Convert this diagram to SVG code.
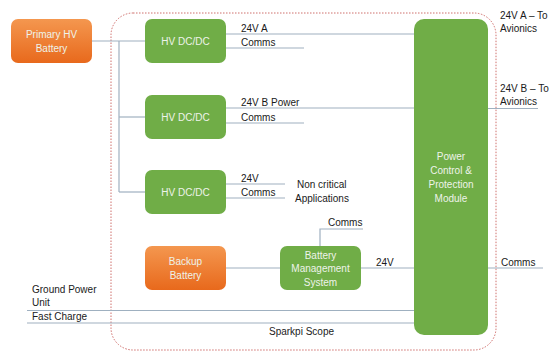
<svg xmlns="http://www.w3.org/2000/svg" width="551" height="352" viewBox="0 0 551 352">
  <defs>
    <linearGradient id="orangeFill" x1="0" y1="0" x2="0" y2="1">
      <stop offset="0" stop-color="#f4974f"/>
      <stop offset="1" stop-color="#e8691c"/>
    </linearGradient>
    <style>
      .green { fill: #70ad47; }
      .orange { fill: url(#orangeFill); }
      .box-text { font-family: "Liberation Sans", Arial, sans-serif; font-size: 10px; fill: #eef3ea; text-anchor: middle; }
      .label { font-family: "Liberation Sans", Arial, sans-serif; font-size: 10px; fill: #1a1a1a; }
      .wire { stroke: #9fb0c0; stroke-width: 1.2; fill: none; }
      .scope { stroke: #c9605c; stroke-width: 0.9; stroke-dasharray: 1.5 1.5; fill: none; }
    </style>
  </defs>

  <rect width="551" height="352" fill="#ffffff"/>

  <!-- system boundary -->
  <rect id="scope" class="scope" x="111" y="13" width="385" height="337" rx="22" ry="22"/>

  <!-- connectors -->
  <g id="connectors">
    <path class="wire" d="M92 41 H145"/>
    <path class="wire" d="M119 41 V192"/>
    <path class="wire" d="M119 117 H145"/>
    <path class="wire" d="M119 192 H145"/>
    <path class="wire" d="M226 34 H414"/>
    <path class="wire" d="M226 48 H304"/>
    <path class="wire" d="M226 108 H414"/>
    <path class="wire" d="M488 108.5 H538"/>
    <path class="wire" d="M226 123 H304"/>
    <path class="wire" d="M226 184 H285"/>
    <path class="wire" d="M226 198 H285"/>
    <path class="wire" d="M226 268 H280"/>
    <path class="wire" d="M361 268 H414"/>
    <path class="wire" d="M488 268 H543"/>
    <path class="wire" d="M320 246 V229 H363"/>
    <path class="wire" d="M27 310.5 H414"/>
    <path class="wire" d="M27 323 H414"/>
  </g>

  <!-- nodes -->
  <g id="primary-hv-battery">
    <rect class="orange" x="11" y="19" width="81" height="44" rx="7"/>
    <text class="box-text" x="51.5" y="37.5">Primary HV</text>
    <text class="box-text" x="51.5" y="51.5">Battery</text>
  </g>

  <g id="hv-dcdc-1">
    <rect class="green" x="145" y="19" width="81" height="44" rx="7"/>
    <text class="box-text" x="185.5" y="44.5">HV DC/DC</text>
  </g>

  <g id="hv-dcdc-2">
    <rect class="green" x="145" y="95" width="81" height="44" rx="7"/>
    <text class="box-text" x="185.5" y="120.5">HV DC/DC</text>
  </g>

  <g id="hv-dcdc-3">
    <rect class="green" x="145" y="170" width="81" height="44" rx="7"/>
    <text class="box-text" x="185.5" y="195.5">HV DC/DC</text>
  </g>

  <g id="backup-battery">
    <rect class="orange" x="145" y="246" width="81" height="44" rx="7"/>
    <text class="box-text" x="185.5" y="264.5">Backup</text>
    <text class="box-text" x="185.5" y="278.5">Battery</text>
  </g>

  <g id="battery-management-system">
    <rect class="green" x="280" y="246" width="81" height="44" rx="7"/>
    <text class="box-text" x="320.5" y="258.5">Battery</text>
    <text class="box-text" x="320.5" y="272">Management</text>
    <text class="box-text" x="320.5" y="286">System</text>
  </g>

  <g id="power-control-protection-module">
    <rect class="green" x="414" y="19" width="74" height="316" rx="10"/>
    <text class="box-text" x="451" y="160">Power</text>
    <text class="box-text" x="451" y="174">Control &amp;</text>
    <text class="box-text" x="451" y="188">Protection</text>
    <text class="box-text" x="451" y="202">Module</text>
  </g>

  <!-- labels -->
  <g id="labels">
    <text class="label" x="241" y="32">24V A</text>
    <text class="label" x="241" y="45.5">Comms</text>
    <text class="label" x="241" y="106">24V B Power</text>
    <text class="label" x="241" y="121">Comms</text>
    <text class="label" x="241" y="182">24V</text>
    <text class="label" x="241" y="195.5">Comms</text>
    <text class="label" x="297" y="188">Non critical</text>
    <text class="label" x="295" y="202">Applications</text>
    <text class="label" x="328" y="226">Comms</text>
    <text class="label" x="376" y="266">24V</text>
    <text class="label" x="501" y="266">Comms</text>
    <text class="label" x="500" y="19">24V A – To</text>
    <text class="label" x="500" y="31.5">Avionics</text>
    <text class="label" x="500" y="92">24V B – To</text>
    <text class="label" x="500" y="104.5">Avionics</text>
    <text class="label" x="32" y="293">Ground Power</text>
    <text class="label" x="32" y="306">Unit</text>
    <text class="label" x="32" y="320">Fast Charge</text>
    <text class="label" x="269" y="335">Sparkpi Scope</text>
  </g>
</svg>
